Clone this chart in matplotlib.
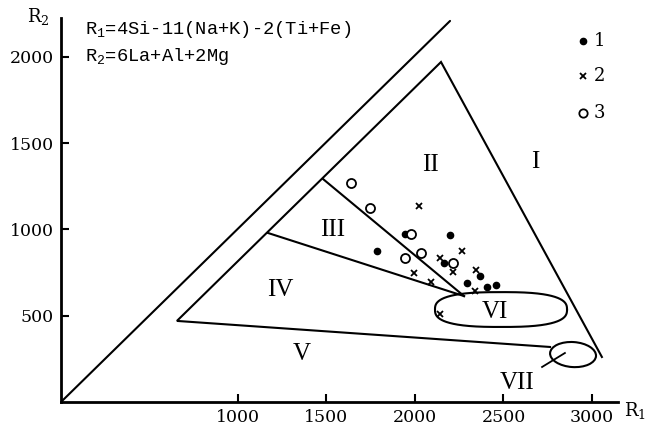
import numpy as np
import matplotlib
matplotlib.use("Agg")
import matplotlib.pyplot as plt
from matplotlib.patches import Ellipse

plt.rcParams["font.family"] = ["DejaVu Serif"]
plt.rcParams["mathtext.fontset"] = "dejavuserif"

# Sample groups (R1, R2)
group1_r1 = [1943, 1784, 2198, 2164, 2367, 2292, 2408, 2455]
group1_r2 = [972, 875, 968, 804, 729, 688, 665, 677]
group2_r1 = [2024, 2264, 2141, 2213, 2345, 1994, 2090, 2339, 2141]
group2_r2 = [1136, 878, 835, 752, 765, 750, 696, 645, 508]
group3_r1 = [1638, 1746, 1976, 2032, 1941, 2216]
group3_r2 = [1268, 1123, 972, 866, 835, 808]

legend_labels = ["1", "2", "3"]
x_ticks = [1000, 1500, 2000, 2500, 3000]
y_ticks = [500, 1000, 1500, 2000]

# Field boundaries (R1, R2)
outer_line = ([0, 2198], [0, 2209])
apex = (2147, 1971)
left_vertex = (655, 470)
right_end = (3056, 261)
bottom_end = (2763, 319)
junction_iv_iii = (1169, 980)
junction_iii_ii = (1480, 1293)
convergence = (2277, 614)

field_labels = ["I", "II", "III", "IV", "V", "VI", "VII"]
field_label_x = [2678, 2085, 1537, 1237, 1362, 2452, 2576]
field_label_y = [1390, 1372, 996, 648, 278, 521, 110]

fig = plt.figure(figsize=(6.66, 4.30), dpi=100)
ax = fig.add_axes([61 / 666, 28 / 430, (618 - 61) / 666, (402 - 18) / 430])
ax.set_xlim(0, 3147)
ax.set_ylim(0, 2226)

lw = 1.5
ax.plot(*outer_line, color="black", lw=lw, solid_capstyle="round")
tri_x = [right_end[0], apex[0], left_vertex[0], bottom_end[0]]
tri_y = [right_end[1], apex[1], left_vertex[1], bottom_end[1]]
ax.plot(tri_x, tri_y, color="black", lw=lw, solid_joinstyle="miter")
ax.plot([junction_iv_iii[0], convergence[0]], [junction_iv_iii[1], convergence[1]],
        color="black", lw=lw)
ax.plot([junction_iii_ii[0], convergence[0]], [junction_iii_ii[1], convergence[1]],
        color="black", lw=lw)

# Field VI: rounded elongated outline (superellipse)
cx, cy, a, b, n = 2486, 536, 373, 101, 2.7
t = np.linspace(0, 2 * np.pi, 400)
ct, st = np.cos(t), np.sin(t)
vx = cx + a * np.sign(ct) * np.abs(ct) ** (2 / n)
vy = cy + b * np.sign(st) * np.abs(st) ** (2 / n)
ax.plot(vx, vy, color="black", lw=lw)

# Field VII
ax.add_patch(Ellipse((2893, 275), 260, 145, angle=-4, fill=False,
                     edgecolor="black", lw=lw))
ax.plot([2718, 2847], [203, 284], color="black", lw=1.3)

for lab, x, y in zip(field_labels, field_label_x, field_label_y):
    ax.text(x, y, lab, fontsize=18, family="Liberation Serif",
            ha="center", va="center")

# Data points
ax.plot(group1_r1, group1_r2, "o", color="black", ms=4.5, ls="none")
ax.plot(group2_r1, group2_r2, "x", color="black", ms=4.5, mew=1.3, ls="none")
ax.plot(group3_r1, group3_r2, "o", mfc="white", mec="black", ms=6.5, mew=1.3,
        ls="none")

# Key
key_y = [2093, 1890, 1675]
ax.plot([2949], [key_y[0]], "o", color="black", ms=4.5)
ax.plot([2949], [key_y[1]], "x", color="black", ms=4.5, mew=1.3)
ax.plot([2949], [key_y[2]], "o", mfc="white", mec="black", ms=6, mew=1.3)
for lab, y in zip(legend_labels, key_y):
    ax.text(3010, y, lab, fontsize=13, ha="left", va="center")

# Formulas (typewriter spacing)
mono = "Liberation Mono"
ax.text(136, 2162, r"R$\mathregular{_1}$=4Si-11(Na+K)-2(Ti+Fe)", fontsize=13.5,
        family=mono, ha="left", va="center")
ax.text(136, 2000, r"R$\mathregular{_2}$=6La+Al+2Mg", fontsize=13.5,
        family=mono, ha="left", va="center")

# Axes styling
for side in ["top", "right"]:
    ax.spines[side].set_visible(False)
for side in ["left", "bottom"]:
    ax.spines[side].set_linewidth(2)
ax.set_xticks(x_ticks)
ax.set_yticks(y_ticks)
ax.set_xticklabels([str(v) for v in x_ticks])
ax.set_yticklabels([str(v) for v in y_ticks])
ax.tick_params(direction="in", length=6, width=1.5, labelsize=12.5, pad=5)

ax.text(-130, 2232, r"R$_2$", fontsize=13, ha="center", va="center",
        clip_on=False)
ax.text(3243, -52, r"R$_1$", fontsize=13, ha="center", va="center",
        clip_on=False)

fig.savefig("out.png", dpi=100)
